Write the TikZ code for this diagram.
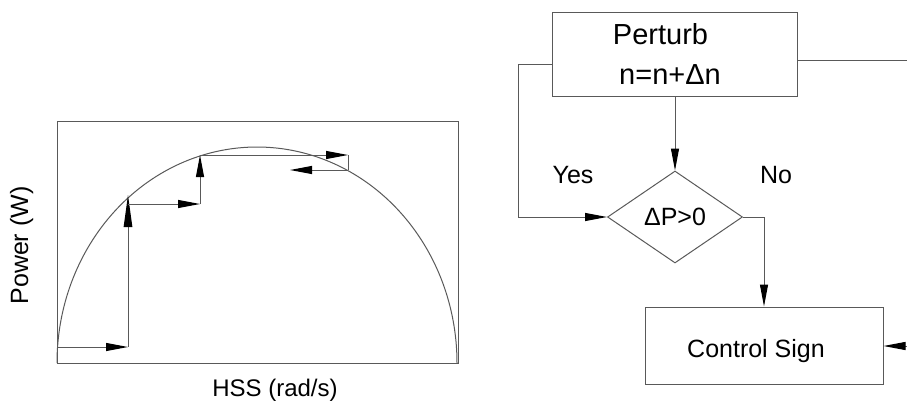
\documentclass[tikz,border=0pt]{standalone}
\usepackage{fontspec}
\setmainfont{Liberation Sans}
\usetikzlibrary{arrows.meta,shapes.geometric}

\begin{document}
\begin{tikzpicture}[x=1pt,y=-1pt,
  ln/.style={draw=black!65, line width=1pt},
  tip/.style={-{Triangle[length=22pt,width=8pt,color=black]}},
  longtip/.style={-{Triangle[length=32pt,width=8.5pt,color=black]}},
  box/.style={ln, rectangle, inner sep=0pt},
  lbl/.style={inner sep=0pt, anchor=base, font=\fontsize{25}{30}\selectfont},
  big/.style={inner sep=0pt, anchor=base, font=\fontsize{29}{34}\selectfont},
]
\useasboundingbox (0,0) rectangle (907,401);

% ---- power curve with hill-climbing steps ----
\draw[ln] (57,122) rectangle (458,363);
\draw[ln] plot[domain=0:180, samples=120, smooth] ({257+200*cos(\x)},{363-216*sin(\x)});

\draw[ln,tip] (57,347) -- (128,347);
\draw[ln,longtip] (128,347) -- (128,195);
\draw[ln,tip] (128,204) -- (200,204);
\draw[ln,tip] (200,204) -- (200,155);
\draw[ln,tip] (200,155) -- (348,155);
\draw[ln] (348,155) -- (348,170);
\draw[ln,tip] (348,170) -- (290,170);

\node[lbl, rotate=90] (ylab) at (28,245.5) {Power (W)};
\node[lbl, font=\fontsize{24}{29}\selectfont] (xlab) at (275,396) {HSS (rad/s)};

% ---- perturb & observe flowchart ----
\node[box, minimum width=245pt, minimum height=84pt] (perturb) at (675,55) {};
\node[big] (ptxt) at (660.5,45) {Perturb};
\node[big] (ntxt) at (670,85) {n=n+Δn};

\node[ln, diamond, inner sep=0pt, minimum width=135pt, minimum height=92pt,
      font=\fontsize{25}{30}\selectfont] (test) at (675,217) {ΔP>0};

\node[box, minimum width=238pt, minimum height=77pt] (ctrl) at (764,345.5) {};
\node[lbl] (ctxt) at (756,357) {Control Sign};

\node[lbl] (yes) at (573,183) {Yes};
\node[lbl] (no) at (776,183) {No};

\coordinate (feedR) at (907,61);
\coordinate (feedC) at (907,346);

\draw[ln,tip] ([yshift=-10pt]perturb.west) -- ++(-34,0) |- (test.west);
\draw[ln] ([yshift=-6pt]perturb.east) -- (feedR);
\draw[ln,tip] (perturb.south) -- (test.north);
\draw[ln,tip] (test.east) -| (ctrl.north);
\draw[ln,tip] (feedC) -- (feedC -| ctrl.east);
\end{tikzpicture}
\end{document}
